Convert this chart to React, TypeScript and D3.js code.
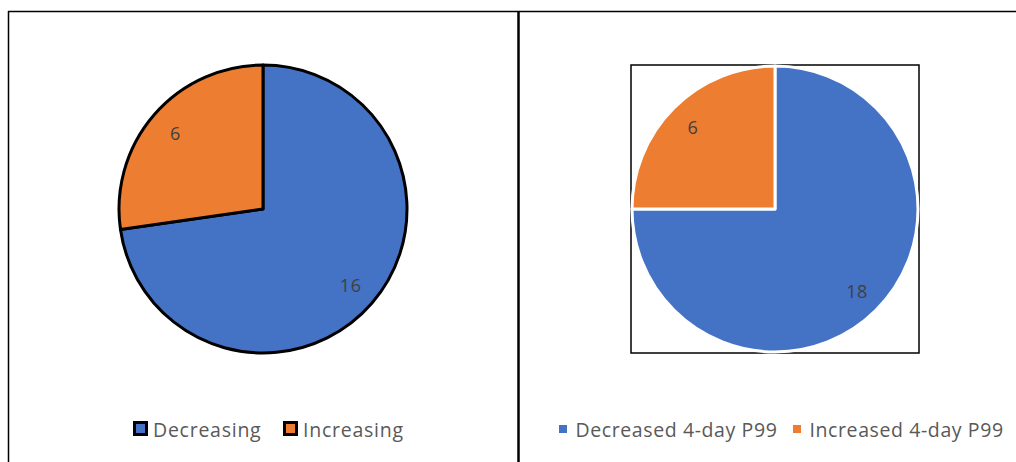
import * as d3 from "d3";

const leftCategories = ["Decreasing", "Increasing"];
const leftValues = [16, 6];
const rightCategories = ["Decreased 4-day P99", "Increased 4-day P99"];
const rightValues = [18, 6];
const colors = ["#4472C4", "#ED7D31"];

const W = 1016;
const H = 462;
const font = "'Open Sans', 'Noto Sans', sans-serif";

type PieProps = {
  cx: number;
  cy: number;
  r: number;
  values: number[];
  stroke: string;
  strokeWidth: number;
  labelR: number;
};

function Pie({ cx, cy, r, values, stroke, strokeWidth, labelR }: PieProps) {
  const pie = d3.pie<number>().sort(null).value((d) => d);
  const arcs = pie(values);
  const arc = d3.arc<d3.PieArcDatum<number>>().innerRadius(0).outerRadius(r);
  const labelArc = d3.arc<d3.PieArcDatum<number>>().innerRadius(labelR).outerRadius(labelR);
  return (
    <g transform={`translate(${cx},${cy})`}>
      {arcs.map((a, i) => (
        <path
          key={i}
          d={arc(a) ?? ""}
          fill={colors[i]}
          stroke={stroke}
          strokeWidth={strokeWidth}
          strokeLinejoin="round"
        />
      ))}
      {arcs.map((a, i) => {
        const [x, y] = labelArc.centroid(a);
        return (
          <text
            key={i}
            x={x}
            y={y}
            textAnchor="middle"
            dominantBaseline="central"
            fontSize={18}
            letterSpacing={0.6}
            fill="#404040"
            fontFamily={font}
          >
            {a.data}
          </text>
        );
      })}
    </g>
  );
}

export default function App() {
  return (
    <svg
      width={W}
      height={H}
      style={{ position: "absolute", left: 0, top: 0, background: "#fff" }}
    >
      {/* panel frames */}
      <line x1={8} y1={11.5} x2={W} y2={11.5} stroke="#000" strokeWidth={1.5} />
      <line x1={8.5} y1={11} x2={8.5} y2={H} stroke="#000" strokeWidth={1.5} />
      <line x1={518.5} y1={11} x2={518.5} y2={H} stroke="#000" strokeWidth={2.5} />

      {/* left pie */}
      <Pie cx={263} cy={209} r={144} values={leftValues} stroke="#000" strokeWidth={3} labelR={116} />

      {/* right plot area box */}
      <rect x={631} y={65} width={288} height={288} fill="none" stroke="#000" strokeWidth={1.5} />
      <Pie cx={775} cy={209} r={143} values={rightValues} stroke="#fff" strokeWidth={3} labelR={116} />

      {/* left legend */}
      {leftCategories.map((c, i) => {
        const x = i === 0 ? 133 : 283;
        return (
          <g key={c}>
            <rect x={x + 1.5} y={422.5} width={12} height={12} fill={colors[i]} stroke="#000" strokeWidth={3} />
            <text x={x + 20} y={437} fontSize={19.5} letterSpacing={0.75} fill="#595959" fontFamily={font}>
              {c}
            </text>
          </g>
        );
      })}

      {/* right legend */}
      {rightCategories.map((c, i) => {
        const x = i === 0 ? 559 : 793;
        return (
          <g key={c}>
            <rect x={x} y={425} width={8} height={8} fill={colors[i]} />
            <text x={x + 16.5} y={437} fontSize={19.5} letterSpacing={0.6} fill="#595959" fontFamily={font}>
              {c}
            </text>
          </g>
        );
      })}
    </svg>
  );
}
